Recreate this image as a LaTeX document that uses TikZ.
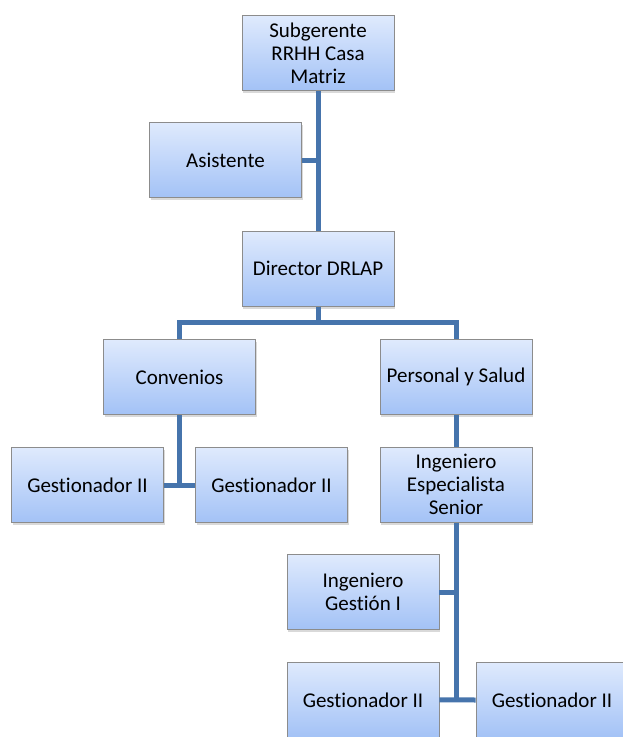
\documentclass[tikz,border=0pt]{standalone}
\usepackage{fontspec}
\setmainfont{Carlito}[Ligatures=NoCommon]
\usetikzlibrary{positioning,shadows}
\definecolor{linkblue}{RGB}{70,116,172}
\definecolor{boxtop}{RGB}{223,234,253}
\definecolor{boxbot}{RGB}{163,194,246}
\definecolor{boxline}{RGB}{140,140,140}

\begin{document}
\begin{tikzpicture}[
  x=1pt, y=-1pt,
  font=\fontsize{21}{23}\selectfont,
  box/.style={draw=boxline, line width=0.8pt, top color=boxtop, bottom color=boxbot,
    minimum width=152pt, minimum height=75pt, align=center, inner sep=2pt,
    drop shadow={shadow xshift=1pt, shadow yshift=-2.5pt, opacity=0.3}},
  link/.style={draw=linkblue, line width=5pt}
]
\useasboundingbox (0,0) rectangle (623,737);
\clip (0,0) rectangle (623,737);
% top of the chart
\node[box] (sub) at (318,53) {Subgerente\\RRHH Casa\\Matriz};
\node[box] (asis) at (225.5,160) {Asistente};
\node[box, below=140pt of sub] (dir) {Director DRLAP};
% second level
\node[box] (conv) at (179.5,377) {Convenios};
\node[box] (pers) at (456,377) {Personal y Salud};
\node[box] (gest1) at (87.5,485) {Gestionador II};
\node[box] (gest2) at (271.5,485) {Gestionador II};
\node[box, below=32pt of pers] (ing) {Ingeniero\\Especialista\\Senior};
% under the engineer
\node[box] (ingest) at (363,592) {Ingeniero\\Gestión I};
\node[box, below=32pt of ingest] (gest3) {Gestionador II};
\node[box] (gest4) at (552,700) {Gestionador II};

\draw[link] (sub.south) -- (dir.north);
\draw[link] (asis.east) -- (sub.south |- asis.east);
\draw[link] (dir.south) -- ++(0,16) -| (conv.north);
\draw[link] (dir.south) -- ++(0,16) -| (pers.north);
\draw[link] (conv.south) -- (conv.south |- gest1.east);
\draw[link] (gest1.east) -- (gest2.west);
\draw[link] (pers.south) -- (ing.north);
\draw[link] (ing.south) -- (ing.south |- gest4.west);
\draw[link] (ingest.east) -- (ing.south |- ingest.east);
\draw[link] (gest3.east) -- (gest4.west);
\end{tikzpicture}
\end{document}
